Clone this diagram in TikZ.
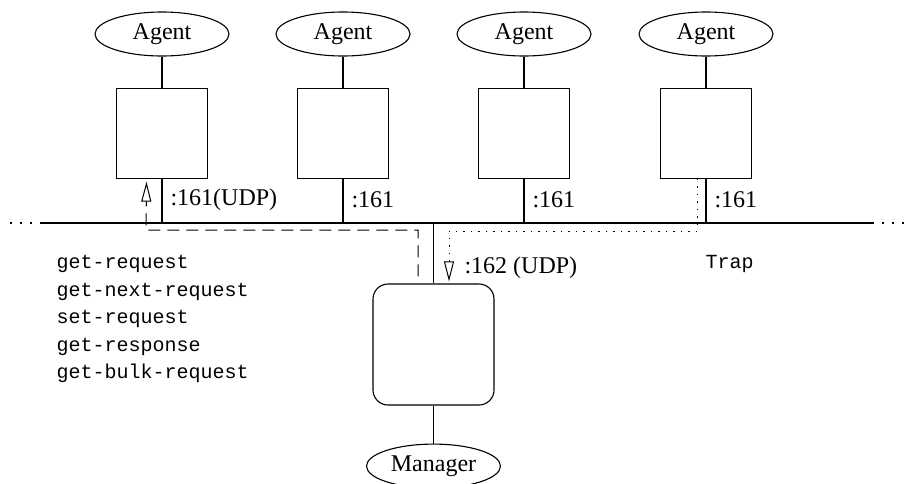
\documentclass[tikz,border=0pt]{standalone}
\usepackage{fontspec}
\setmainfont{Liberation Serif}
\setmonofont{Liberation Mono}
\usetikzlibrary{positioning, arrows.meta, shapes.geometric}

\begin{document}
\begin{tikzpicture}[x=1pt, y=-1pt, line width=1.1pt,
    agent/.style={ellipse, draw, minimum width=134pt, minimum height=44pt, inner sep=0pt,
                  font=\fontsize{24}{28}\selectfont},
    mib/.style={rectangle, draw, minimum width=91pt, minimum height=90pt, inner sep=0pt},
    station/.style={rectangle, rounded corners=15pt, draw, minimum width=121pt,
                    minimum height=121pt, inner sep=0pt},
    port/.style={anchor=west, inner sep=0pt, font=\fontsize{24}{28}\selectfont},
    pdu/.style={anchor=west, inner sep=0pt, align=left, font=\fontsize{20}{27.5}\selectfont\ttfamily},
    msg/.style={-{Triangle[open, length=20pt, width=10pt]}, line width=1pt},
  ]
    \useasboundingbox (0,0) rectangle (906,483);

    % agents and their MIBs
    \node[agent] (agenta) at (162,34) {Agent};
    \node[agent] (agentb) at (343,34) {Agent};
    \node[agent] (agentc) at (524,34) {Agent};
    \node[agent] (agentd) at (706,34) {Agent};
    \node[mib, below=31pt of agenta] (miba) {};
    \node[mib, below=31pt of agentb] (mibb) {};
    \node[mib, below=31pt of agentc] (mibc) {};
    \node[mib, below=31pt of agentd] (mibd) {};
    \draw (agenta) -- (miba);
    \draw (agentb) -- (mibb);
    \draw (agentc) -- (mibc);
    \draw (agentd) -- (mibd);

    % the network
    \coordinate (busw) at (42,223);
    \coordinate (buse) at (872,223);
    \coordinate (busl) at (10,223);
    \coordinate (busr) at (906,223);
    \draw (busw) -- (buse);
    \draw[dash pattern=on 1.5pt off 8.5pt] (busl) -- (busw);
    \draw[dash pattern=on 1.5pt off 8.5pt] (buse) -- (busr);
    \draw (miba) -- (miba |- busw);
    \draw (mibb) -- (mibb |- busw);
    \draw (mibc) -- (mibc |- busw);
    \draw (mibd) -- (mibd |- busw);
    \node[port] (porta) at (170,200) {:161(UDP)};
    \node[port] (portb) at (351,200) {:161};
    \node[port] (portc) at (532,200) {:161};
    \node[port] (portd) at (714,200) {:161};

    % manager
    \node[station] (nms) at (433.5,344.5) {};
    \node[agent, below=38pt of nms] (manager) {Manager};
    \draw (nms) -- (manager);
    \draw (nms.north) -- (nms |- busw);
    \node[port] (porttrap) at (464,268) {:162 (UDP)};

    % requests and traps
    \coordinate (reqsrc) at ([xshift=-15.5pt, yshift=7pt]nms.north);
    \draw[msg, dash pattern=on 12pt off 7pt] (reqsrc) |- (146,230)
        -- ([xshift=-15.5pt, yshift=-3pt]miba.south);
    \draw[msg, dash pattern=on 1.5pt off 6pt] ([xshift=-8.5pt]mibd.south) |- (449,231)
        -- ([xshift=15.5pt, yshift=2pt]nms.north);
    \node[pdu] (pdus) at (56,319) {get-request\\get-next-request\\set-request\\get-response\\get-bulk-request};
    \node[pdu] (trap) at (705,264) {Trap};
\end{tikzpicture}
\end{document}
